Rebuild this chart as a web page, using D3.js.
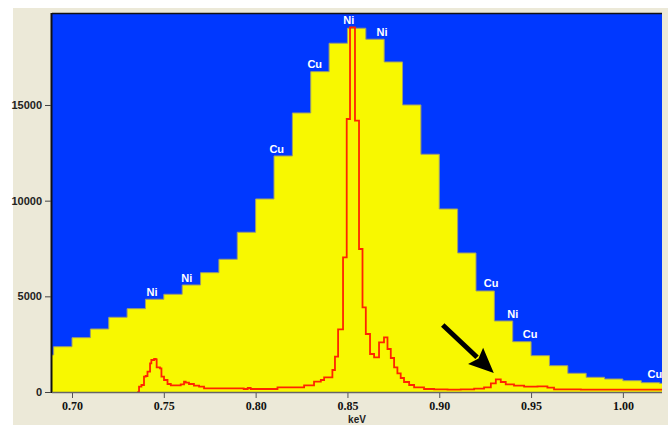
<!DOCTYPE html>
<html>
<head>
<meta charset="utf-8">
<script src="https://cdn.jsdelivr.net/npm/d3@7"></script>
<style>
body { margin: 0; background: #fff; }
svg { display: block; }
</style>
</head>
<body>
<svg id="chart" width="668" height="425"></svg>
<script>
// histogram bins (0.01 keV wide), start energy and counts
const binStart = [0.68, 0.69, 0.70, 0.71, 0.72, 0.73, 0.74, 0.75, 0.76, 0.77, 0.78, 0.79,
    0.80, 0.81, 0.82, 0.83, 0.84, 0.85, 0.86, 0.87, 0.88, 0.89, 0.90, 0.91, 0.92, 0.93,
    0.94, 0.95, 0.96, 0.97, 0.98, 0.99, 1.00, 1.01, 1.02];
const binCounts = [1934, 2368, 2839, 3293, 3905, 4355, 4846, 5107, 5593, 6236, 6937, 8348,
    10089, 12337, 14584, 16743, 18228, 19012, 18437, 17250, 15003, 12425, 9566, 7266, 5280, 3711,
    2629, 1898, 1375, 978, 768, 680, 591, 486, 450];

// high resolution spectrum (red trace), step starts
const lineKeV = [0.7356, 0.7365, 0.7378, 0.7392, 0.7401, 0.7411, 0.7425, 0.7432, 0.7447, 0.7456,
    0.7461, 0.7479, 0.7487, 0.7501, 0.7520, 0.7538, 0.7592, 0.7610, 0.7619, 0.7637, 0.7664, 0.7692,
    0.7719, 0.7935, 0.7957, 0.7973, 0.8119, 0.8264, 0.8318, 0.8355, 0.8373, 0.8418, 0.8432, 0.8449,
    0.8476, 0.8496, 0.8514, 0.8541, 0.8563, 0.8582, 0.8600, 0.8623, 0.8645, 0.8672, 0.8699, 0.8718,
    0.8736, 0.8754, 0.8772, 0.8790, 0.8808, 0.8836, 0.8863, 0.8917, 0.8972, 0.9045, 0.9117, 0.9190,
    0.9244, 0.9281, 0.9308, 0.9335, 0.9362, 0.9407, 0.9462, 0.9535, 0.9589, 0.9625, 0.9771, 1.0230];
const lineCounts = [0, 277, 366, 800, 836, 1061, 1500, 1673, 1725, 1709,
    1291, 1239, 800, 627, 418, 350, 402, 538, 486, 418, 329, 277,
    193, 157, 209, 157, 246, 350, 538, 627, 768, 1150, 1845, 3277,
    7041, 14269, 19062, 14180, 7474, 4427, 3032, 1986, 1814, 2598, 2859, 2248,
    1777, 1291, 977, 732, 523, 366, 246, 157, 141, 120, 141, 172,
    246, 455, 664, 523, 402, 329, 277, 298, 225, 141, 120, 120];

const xTicks = [0.70, 0.75, 0.80, 0.85, 0.90, 0.95, 1.00];
const yTicks = [0, 5000, 10000, 15000];

const peakLabels = ["Ni", "Ni", "Cu", "Cu", "Ni", "Ni", "Cu", "Ni", "Cu", "Cu"];
const peakKeV = [0.8507, 0.8688, 0.8322, 0.8115, 0.7436, 0.7625, 0.9282, 0.9400, 0.9495, 1.0174];
const peakCounts = [19416, 18831, 17154, 12700, 5242, 5974, 5671, 4077, 3021, 915];

// annotation arrow: tail and tip in data units
const arrowKeV = [0.9019, 0.9297];
const arrowCounts = [3502, 993];

const W = 668, H = 425;
const plot = {left: 52, right: 662, top: 14, bottom: 392};

const x = d3.scaleLinear().domain([0.6891, 1.0213]).range([plot.left, plot.right]);
const y = d3.scaleLinear().domain([0, 19756]).range([plot.bottom, plot.top]);

const svg = d3.select("#chart");

// window background
svg.append("rect").attr("x", 13).attr("y", 8).attr("width", W - 13).attr("height", H - 8)
    .attr("fill", "#ece9d8");

svg.append("clipPath").attr("id", "clip")
  .append("rect")
    .attr("x", plot.left).attr("y", plot.top)
    .attr("width", plot.right - plot.left).attr("height", plot.bottom - plot.top);

const g = svg.append("g").attr("clip-path", "url(#clip)");

g.append("rect")
    .attr("x", plot.left).attr("y", plot.top)
    .attr("width", plot.right - plot.left).attr("height", plot.bottom - plot.top)
    .attr("fill", "#0038ff");

const bins = binStart.map((e, i) => ({e: e, c: binCounts[i]}));
bins.push({e: binStart[binStart.length - 1] + 0.01, c: binCounts[binCounts.length - 1]});

g.append("path")
    .datum(bins)
    .attr("fill", "#f8f800")
    .attr("d", d3.area().curve(d3.curveStepAfter)
        .x(d => x(d.e)).y0(plot.bottom).y1(d => y(d.c)));

g.append("path")
    .datum(bins)
    .attr("fill", "none")
    .attr("stroke", "#9c9c70")
    .attr("stroke-width", 1)
    .attr("d", d3.line().curve(d3.curveStepAfter).x(d => x(d.e)).y(d => y(d.c)));

const spectrum = lineKeV.map((e, i) => ({e: e, c: lineCounts[i]}));
g.append("path")
    .datum(spectrum)
    .attr("fill", "none")
    .attr("stroke", "#ff2400")
    .attr("stroke-width", 1.8)
    .attr("stroke-linejoin", "miter")
    .attr("d", d3.line().curve(d3.curveStepAfter).x(d => x(d.e)).y(d => y(d.c)));

// element labels
g.selectAll(".peak")
    .data(peakLabels)
    .enter().append("text")
    .attr("class", "peak")
    .attr("x", (d, i) => x(peakKeV[i]))
    .attr("y", (d, i) => y(peakCounts[i]))
    .attr("dy", "0.36em")
    .attr("text-anchor", "middle")
    .attr("fill", "#fff")
    .attr("font-family", "'Liberation Sans', Arial, sans-serif")
    .attr("font-weight", "bold")
    .attr("font-size", "11px")
    .text(d => d);

// arrow
const ax0 = x(arrowKeV[0]), ay0 = y(arrowCounts[0]), ax1 = x(arrowKeV[1]), ay1 = y(arrowCounts[1]);
const len = Math.hypot(ax1 - ax0, ay1 - ay0), ux = (ax1 - ax0) / len, uy = (ay1 - ay0) / len;
const headLen = 25, headHalf = 11;
const bx = ax1 - ux * headLen, by = ay1 - uy * headLen;
g.append("line")
    .attr("x1", ax0).attr("y1", ay0).attr("x2", bx + ux * 2).attr("y2", by + uy * 2)
    .attr("stroke", "#000").attr("stroke-width", 5);
g.append("path")
    .attr("d", `M${ax1},${ay1}L${bx - uy * headHalf},${by + ux * headHalf}L${bx + ux * 4},${by + uy * 4}L${bx + uy * headHalf},${by - ux * headHalf}Z`)
    .attr("fill", "#000");

// frame and axes
svg.append("line").attr("x1", plot.left).attr("x2", plot.right)
    .attr("y1", plot.top - 0.5).attr("y2", plot.top - 0.5)
    .attr("stroke", "#111").attr("stroke-width", 1.5);
svg.append("line").attr("x1", plot.left - 0.5).attr("x2", plot.left - 0.5)
    .attr("y1", plot.top - 1).attr("y2", plot.bottom + 1)
    .attr("stroke", "#111").attr("stroke-width", 2);
svg.append("line").attr("x1", plot.left).attr("x2", plot.right)
    .attr("y1", plot.bottom + 0.5).attr("y2", plot.bottom + 0.5)
    .attr("stroke", "#666").attr("stroke-width", 1.5);

const yAxis = svg.append("g")
    .attr("transform", `translate(${plot.left - 1},0)`)
    .call(d3.axisLeft(y).tickValues(yTicks).tickSize(6).tickPadding(3).tickFormat(d3.format("d")));
yAxis.select(".domain").remove();
yAxis.selectAll("line").attr("stroke", "#444");
yAxis.selectAll("text")
    .attr("fill", "#222")
    .attr("font-family", "'Liberation Sans', Arial, sans-serif")
    .attr("font-weight", "bold")
    .attr("font-size", "11px");

const xAxis = svg.append("g")
    .attr("transform", `translate(0,${plot.bottom + 1})`)
    .call(d3.axisBottom(x).tickValues(xTicks).tickSize(5).tickPadding(3).tickFormat(d3.format(".2f")));
xAxis.select(".domain").remove();
xAxis.selectAll("line").attr("stroke", "#555");
xAxis.selectAll("text")
    .attr("fill", "#111")
    .attr("font-family", "'Liberation Serif', 'Times New Roman', serif")
    .attr("font-weight", "bold")
    .attr("font-size", "12px");

// axis title close to the bottom edge, as in the source
svg.append("text")
    .attr("x", (plot.left + plot.right) / 2)
    .attr("y", 423)
    .attr("text-anchor", "middle")
    .attr("fill", "#222")
    .attr("font-family", "'Liberation Sans', Arial, sans-serif")
    .attr("font-weight", "bold")
    .attr("font-size", "10px")
    .text("keV");
</script>
</body>
</html>
